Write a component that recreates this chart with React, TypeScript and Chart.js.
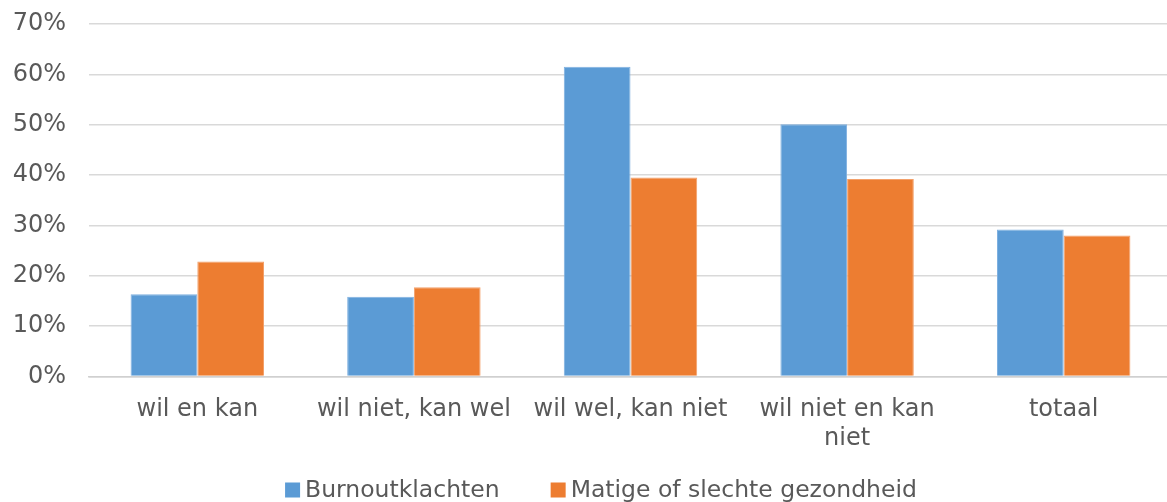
import React, { useEffect, useRef } from "react";
import { Chart, registerables } from "chart.js";

Chart.register(...registerables);

const categories: (string | string[])[] = [
  "wil en kan",
  "wil niet, kan wel",
  "wil wel, kan niet",
  ["wil niet en kan", "niet"],
  "totaal",
];
const burnout = [16.3, 15.8, 61.5, 50.1, 29.2];
const gezondheid = [22.8, 17.7, 39.5, 39.2, 28.0];
const seriesNames = ["Burnoutklachten", "Matige of slechte gezondheid"];

const FONT = "'DejaVu Sans', Verdana, sans-serif";

const bottomLegend = {
  id: "bottomLegend",
  afterDraw(chart: any) {
    const ctx = chart.ctx as CanvasRenderingContext2D;
    ctx.save();
    ctx.font = `23.5px ${FONT}`;
    ctx.textBaseline = "middle";
    const box = 15;
    const gapBoxText = 5;
    const gapItems = 51;
    const items = chart.data.datasets.map((d: any) => ({
      label: d.label as string,
      color: d.backgroundColor as string,
      w: ctx.measureText(d.label).width,
    }));
    const total =
      items.reduce((s: number, it: any) => s + box + gapBoxText + it.w, 0) +
      gapItems * (items.length - 1);
    let x = 601 - total / 2;
    const cy = 490;
    for (const it of items) {
      ctx.fillStyle = it.color;
      ctx.fillRect(x, cy - box / 2, box, box);
      ctx.fillStyle = "#595959";
      ctx.fillText(it.label, x + box + gapBoxText, cy + 1);
      x += box + gapBoxText + it.w + gapItems;
    }
    ctx.restore();
  },
};

export default function App() {
  const ref = useRef<HTMLCanvasElement>(null);
  useEffect(() => {
    document.body.style.margin = "0";
    const chart = new Chart(ref.current!, {
      type: "bar",
      data: {
        labels: categories,
        datasets: [
          {
            label: seriesNames[0],
            data: burnout,
            backgroundColor: "#5b9bd5",
            borderColor: "#7fb0e0",
            borderWidth: 1,
          },
          {
            label: seriesNames[1],
            data: gezondheid,
            backgroundColor: "#ed7d31",
            borderColor: "#f3a06a",
            borderWidth: 1,
          },
        ],
      },
      options: {
        animation: false,
        responsive: false,
        maintainAspectRatio: false,
        layout: { padding: { top: 24, left: 13, right: 0, bottom: 30 } },
        datasets: { bar: { barPercentage: 1, categoryPercentage: 0.616 } },
        scales: {
          y: {
            min: 0,
            max: 70,
            afterFit: (s: any) => {
              s.width = 76;
              s.paddingTop = 0;
              s.paddingBottom = 0;
            },
            ticks: {
              stepSize: 10,
              callback: (v: any) => v + "%",
              color: "#595959",
              font: { family: FONT, size: 24 },
              padding: 23,
            },
            grid: { color: "#d9d9d9", lineWidth: 1.5, drawTicks: false },
            border: { display: false },
          },
          x: {
            ticks: {
              color: "#595959",
              font: { family: FONT, size: 24 },
              padding: 19,
              maxRotation: 0,
              autoSkip: false,
            },
            grid: { display: false, drawTicks: false },
            border: { display: true, color: "#d0d0d0", width: 1.5 },
          },
        },
        plugins: {
          legend: { display: false },
          tooltip: { enabled: false },
        },
      },
      plugins: [bottomLegend],
    });
    return () => chart.destroy();
  }, []);
  return (
    <div style={{ width: 1167, height: 502, overflow: "hidden" }}>
      <canvas ref={ref} width={1172} height={502} style={{ display: "block" }} />
    </div>
  );
}
